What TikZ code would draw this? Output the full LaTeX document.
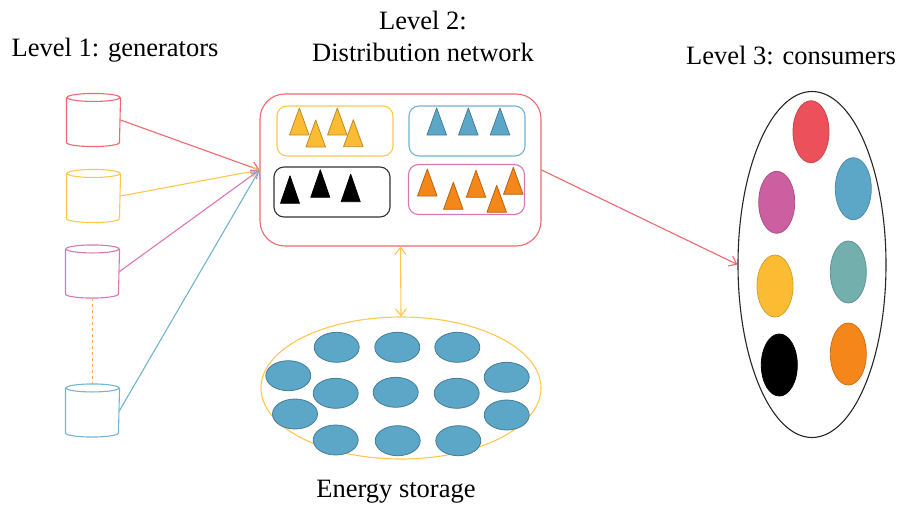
\documentclass[tikz,border=0pt]{standalone}
\usepackage{fontspec}
\setmainfont{Liberation Serif}
\usetikzlibrary{arrows.meta, positioning, shapes.geometric}
\definecolor{lred}{HTML}{F0676E}
\definecolor{lyellow}{HTML}{FFC84D}
\definecolor{lpink}{HTML}{D977B6}
\definecolor{lblue}{HTML}{72B4D2}
\definecolor{lorange}{HTML}{F6A650}
\definecolor{cred}{HTML}{EC505A}
\definecolor{cyellow}{HTML}{FBBC33}
\definecolor{cpink}{HTML}{CB5FA0}
\definecolor{cblue}{HTML}{5CA6C8}
\definecolor{cteal}{HTML}{72AFAD}
\definecolor{corange}{HTML}{F4861A}

\begin{document}
\begin{tikzpicture}[x=1pt, y=-1pt, line width=1.1pt,
    every node/.style={font=\fontsize{26.5}{32}\selectfont},
    gen/.style={minimum width=53pt, minimum height=52pt, inner sep=0pt},
    box/.style={draw, rounded corners=10pt, minimum width=116pt, minimum height=50pt, inner sep=0pt},
    disc/.style={ellipse, draw=cblue!75!black, fill=cblue, line width=0.8pt, minimum width=45pt, minimum height=30pt, inner sep=0pt},
    cnode/.style={ellipse, fill=#1, draw=#1!85!black, line width=0.8pt, minimum width=36pt, minimum height=62pt, inner sep=0pt},
    tri/.style={fill=#1, draw=#1!75!black, line width=0.8pt, line join=round},
    flow/.style={-{Straight Barb[length=7pt,width=11pt]}}]
    \useasboundingbox (0,0) rectangle (899,509);

    % titles
    \node (t1) at (115,50) {Level 1: generators};
    \node[align=center] (t2) at (423,36) {Level 2:\\Distribution network};
    \node (t3) at (791,55) {Level 3: consumers};
    \node (t4) at (396,492) {Energy storage};

    % generators
    \node[gen] (gen1) at (93.5,120) {};
    \node[gen] (gen2) at (93.5,196) {};
    \node[gen] (gen3) at (92.5,271.5) {};
    \node[gen] (gen4) at (92.5,410.5) {};
    \foreach \g/\c in {gen1/lred, gen2/lyellow, gen3/lpink, gen4/lblue} {
        \draw[\c] ([yshift=-4pt]\g.north) ellipse [x radius=26.5pt, y radius=4pt];
        \draw[\c] ([yshift=-4pt]\g.north west) -- ([yshift=4pt]\g.south west)
            arc [start angle=180, end angle=360, x radius=26.5pt, y radius=4pt] -- ([yshift=-4pt]\g.north east);
    }
    \draw[lorange, dashed] (gen3.south) -- (gen4.north);

    % distribution network
    \node[draw=lred, rounded corners=25pt, minimum width=281pt, minimum height=152pt] (net) at (400.5,170) {};
    \node[box, draw=lyellow] (bY) at (335,131) {};
    \node[box, draw=lblue] (bB) at (467,131) {};
    \node[box, draw=black!80] (bK) at (332,192) {};
    \node[box, draw=lpink] (bP) at (466.5,189.5) {};
    \foreach \x/\y in {299.3/135, 315.7/147, 337.3/135, 353.3/146.7}
        \draw[tri=cyellow] (\x,\y) ++(-9.75,0) -- ++(9.75,-27) -- ++(9.75,27) -- cycle;
    \foreach \x/\y in {436.7/135, 468.3/135, 500/135}
        \draw[tri=cblue] (\x,\y) ++(-9.75,0) -- ++(9.75,-27) -- ++(9.75,27) -- cycle;
    \foreach \x/\y in {290/203.3, 320.3/197.3, 350.7/201.7}
        \draw[tri=black] (\x,\y) ++(-9.5,0) -- ++(9.5,-27.5) -- ++(9.5,27.5) -- cycle;
    \foreach \x/\y in {427.3/196, 453.3/209.3, 476/197.3, 496.7/212.3, 513.3/194.3}
        \draw[tri=corange] (\x,\y) ++(-9.75,0) -- ++(9.75,-27) -- ++(9.75,27) -- cycle;

    \draw[lred, flow] (gen1.east) -- (net.west);
    \draw[lyellow, flow] (gen2.east) -- (net.west);
    \draw[lpink, flow] (gen3.east) -- (net.west);
    \draw[lblue, flow] (gen4.east) -- (net.west);

    % energy storage
    \node[ellipse, draw=lyellow, minimum width=280pt, minimum height=142pt] (store) at (401,388) {};
    \node[disc] (s1) at (336.7,347.3) {};
    \node[disc] (s2) at (397.3,347.3) {};
    \node[disc] (s3) at (457.3,347.3) {};
    \node[disc] (s4) at (288.3,375.7) {};
    \node[disc] (s5) at (295,414) {};
    \node[disc] (s6) at (335.7,393.3) {};
    \node[disc] (s7) at (395.7,392.3) {};
    \node[disc] (s8) at (456.7,393.3) {};
    \node[disc] (s9) at (506.7,377.3) {};
    \node[disc] (s10) at (506.7,415) {};
    \node[disc] (s11) at (335.7,440) {};
    \node[disc] (s12) at (397.7,440.7) {};
    \node[disc] (s13) at (458.3,440.7) {};
    \draw[lyellow, {Straight Barb[length=7pt,width=11pt]}-{Straight Barb[length=7pt,width=11pt]}] (net.south) -- (store.north);

    % consumers
    \node[ellipse, draw=black!85, minimum width=148pt, minimum height=346pt] (cons) at (812,264.5) {};
    \node[cnode=cred] (c1) at (811,131.7) {};
    \node[cnode=cblue] (c2) at (853.3,188.7) {};
    \node[cnode=cpink] (c3) at (776.7,202.3) {};
    \node[cnode=cteal] (c4) at (848.3,272) {};
    \node[cnode=cyellow] (c5) at (775,286) {};
    \node[cnode=corange] (c6) at (848.3,354) {};
    \node[cnode=black] (c7) at (779.3,365) {};
    \draw[lred, flow] (net.east) -- (cons.west);
\end{tikzpicture}
\end{document}
